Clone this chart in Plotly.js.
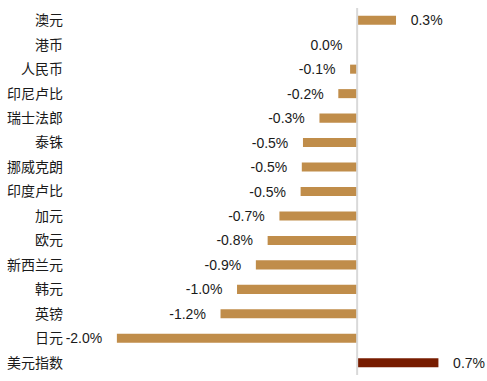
<!DOCTYPE html>
<html>
<head>
<meta charset="utf-8">
<script src="https://cdn.plot.ly/plotly-3.0.1.min.js"></script>
<style>html,body{margin:0;padding:0;background:#fff;}#chart{width:487px;height:381px;}</style>
</head>
<body>
<div id="chart"></div>
<script>
var categories = ["澳元","港币","人民币","印尼卢比","瑞士法郎","泰铢","挪威克朗","印度卢比","加元","欧元","新西兰元","韩元","英镑","日元","美元指数"];
var values = [0.33, -0.001, -0.06, -0.16, -0.32, -0.46, -0.47, -0.48, -0.66, -0.76, -0.86, -1.02, -1.16, -2.04, 0.69];
var highlight = "美元指数";

var colorMain = "#C08D4A";
var colorHi = "#771C00";
var pad = "\u00A0\u00A0\u00A0";

var labels = values.map(function(v){
  var s = v.toFixed(1) + "%";
  if (s === "-0.0%") s = "0.0%";
  return v <= 0 ? s + pad : pad + s;
});

var trace = {
  type: "bar",
  orientation: "h",
  y: categories,
  x: values,
  text: labels,
  textposition: "outside",
  constraintext: "none",
  cliponaxis: false,
  textfont: {family: "Liberation Sans, Arial, sans-serif", size: 14, color: "#1a1a1a"},
  marker: {color: categories.map(function(c){ return c === highlight ? colorHi : colorMain; })},
  hoverinfo: "none"
};

var layout = {
  width: 487, height: 381,
  margin: {l: 64, r: 5, t: 8, b: 6},
  paper_bgcolor: "#fff", plot_bgcolor: "#fff",
  showlegend: false,
  bargap: 0.63,
  font: {family: "Liberation Sans, Noto Sans CJK SC, sans-serif", size: 14, color: "#1a1a1a"},
  xaxis: {range: [-2.489, 1.06], showgrid: false, zeroline: false, showticklabels: false, showline: false, fixedrange: true},
  yaxis: {type: "category", autorange: "reversed", showgrid: false, zeroline: false, showline: false, ticks: "",
          tickfont: {family: "Noto Sans CJK SC, sans-serif", size: 14, color: "#1a1a1a"}, fixedrange: true},
  shapes: [{type: "line", xref: "x", yref: "paper", x0: 0, x1: 0, y0: 0, y1: 1, layer: "above",
            line: {color: "#D9D9D9", width: 2}}]
};

Plotly.newPlot("chart", [trace], layout, {displayModeBar: false, staticPlot: true});
</script>
</body>
</html>
